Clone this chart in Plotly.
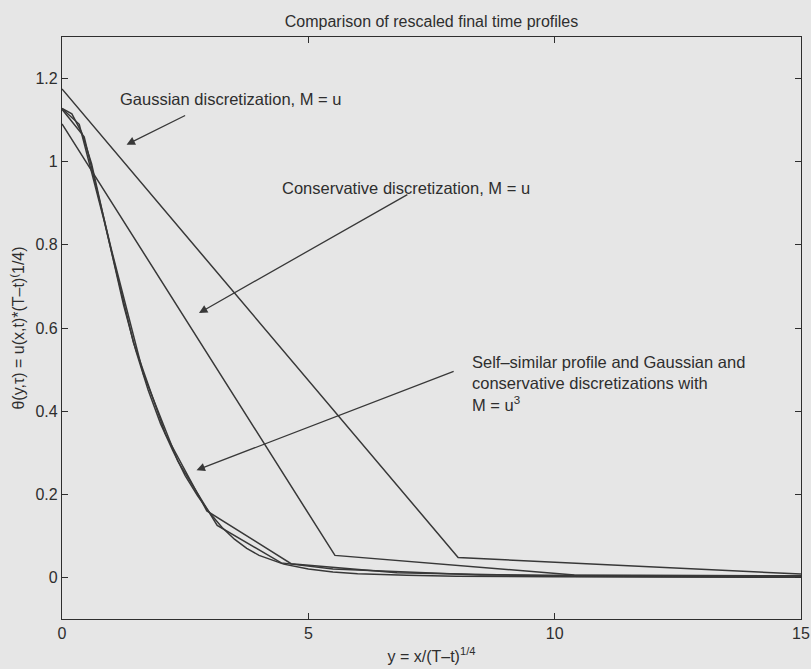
import plotly.graph_objects as go

# Self-similar profile, M = u^3 (smooth reference curve)
ss_x = [0, 0.2, 0.4, 0.6, 0.8, 1.0, 1.25, 1.5, 1.75, 2.0, 2.25, 2.5, 2.75, 3.0,
        3.25, 3.5, 3.75, 4.0, 4.5, 5.0, 5.5, 6.0, 7.0, 8.0, 9.0, 10.0, 12.0, 15.0]
ss_y = [1.128, 1.115, 1.07, 0.995, 0.89, 0.785, 0.655, 0.545, 0.45, 0.37, 0.305,
        0.245, 0.197, 0.155, 0.12, 0.092, 0.07, 0.053, 0.032, 0.02, 0.013, 0.009,
        0.005, 0.003, 0.002, 0.0015, 0.001, 0.0005]

# Gaussian discretization, M = u^3
gu3_x = [0, 0.35, 0.85, 1.45, 2.1, 2.94, 4.65, 6.8, 10.3, 15.0]
gu3_y = [1.128, 1.09, 0.86, 0.565, 0.345, 0.16, 0.033, 0.011, 0.003, 0.001]

# Conservative discretization, M = u^3
cu3_x = [0, 0.45, 1.0, 1.65, 2.35, 3.15, 4.45, 5.5, 8.5, 15.0]
cu3_y = [1.126, 1.06, 0.79, 0.49, 0.28, 0.125, 0.035, 0.02, 0.006, 0.002]

# Gaussian discretization, M = u
gu_x = [0, 3.52, 8.04, 15.0]
gu_y = [1.175, 0.682, 0.048, 0.008]

# Conservative discretization, M = u
cu_x = [0, 5.54, 10.4, 15.0]
cu_y = [1.091, 0.053, 0.006, 0.004]

x_ticks = [0, 5, 10, 15]
y_ticks = [0, 0.2, 0.4, 0.6, 0.8, 1.0, 1.2]

ink = "#2e2e2e"
line_col = "#383838"
bg = "#e6e6e6"
font_family = "Liberation Sans, Arial, Helvetica, sans-serif"

fig = go.Figure()
for xs, ys in [(ss_x, ss_y), (gu3_x, gu3_y), (cu3_x, cu3_y), (gu_x, gu_y), (cu_x, cu_y)]:
    fig.add_trace(go.Scatter(x=xs, y=ys, mode="lines",
                             line=dict(color=line_col, width=1.5),
                             showlegend=False, hoverinfo="skip"))

# arrows: (head x, head y, tail x, tail y)
arrows = [
    (1.31, 1.041, 2.53, 1.113),
    (2.78, 0.636, 7.04, 0.923),
    (2.73, 0.258, 7.98, 0.497),
]
for hx, hy, tx, ty in arrows:
    fig.add_annotation(x=hx, y=hy, ax=tx, ay=ty, xref="x", yref="y",
                       axref="x", ayref="y", text="", showarrow=True,
                       arrowhead=2, arrowsize=1.3, arrowwidth=1.3,
                       arrowcolor=line_col)

labels = [
    (1.14, 1.151, "Gaussian discretization, M = u"),
    (4.42, 0.9375, "Conservative discretization, M = u"),
    (8.28, 0.4675, "Self\u2013similar profile and Gaussian and<br>"
                   "conservative discretizations with<br>M = u<sup>3</sup>"),
]
for lx, ly, txt in labels:
    fig.add_annotation(x=lx, y=ly, xref="x", yref="y", text=txt,
                       showarrow=False, xanchor="left", yanchor="middle",
                       align="left", font=dict(size=16.5, color=ink))

axis_common = dict(showline=True, linecolor=ink, linewidth=1.2, mirror="ticks",
                   ticks="inside", ticklen=6, tickcolor=ink, tickwidth=1,
                   showgrid=False, zeroline=False, automargin=False,
                   tickfont=dict(size=16, color=ink))

fig.update_layout(
    width=811, height=669,
    margin=dict(l=62, r=10, t=37, b=50),
    paper_bgcolor=bg, plot_bgcolor=bg,
    font=dict(family=font_family, size=16, color=ink),
    title=dict(text="Comparison of rescaled final time profiles",
               x=0.5, xref="paper", xanchor="center",
               y=1 - 21 / 669, yanchor="middle",
               font=dict(size=16, color=ink)),
    xaxis=dict(range=[0, 15], tickvals=x_ticks,
               title=dict(text="y = x/(T\u2013t)<sup>1/4</sup>", standoff=9,
                          font=dict(size=16, color=ink)),
               **axis_common),
    yaxis=dict(range=[-0.1, 1.3], tickvals=y_ticks,
               title=dict(text="\u03b8(y,\u03c4) = u(x,t)*(T\u2013t)<sup>(</sup>1/4)",
                          standoff=6, font=dict(size=16, color=ink)),
               **axis_common),
)

fig.write_html("out.html")
